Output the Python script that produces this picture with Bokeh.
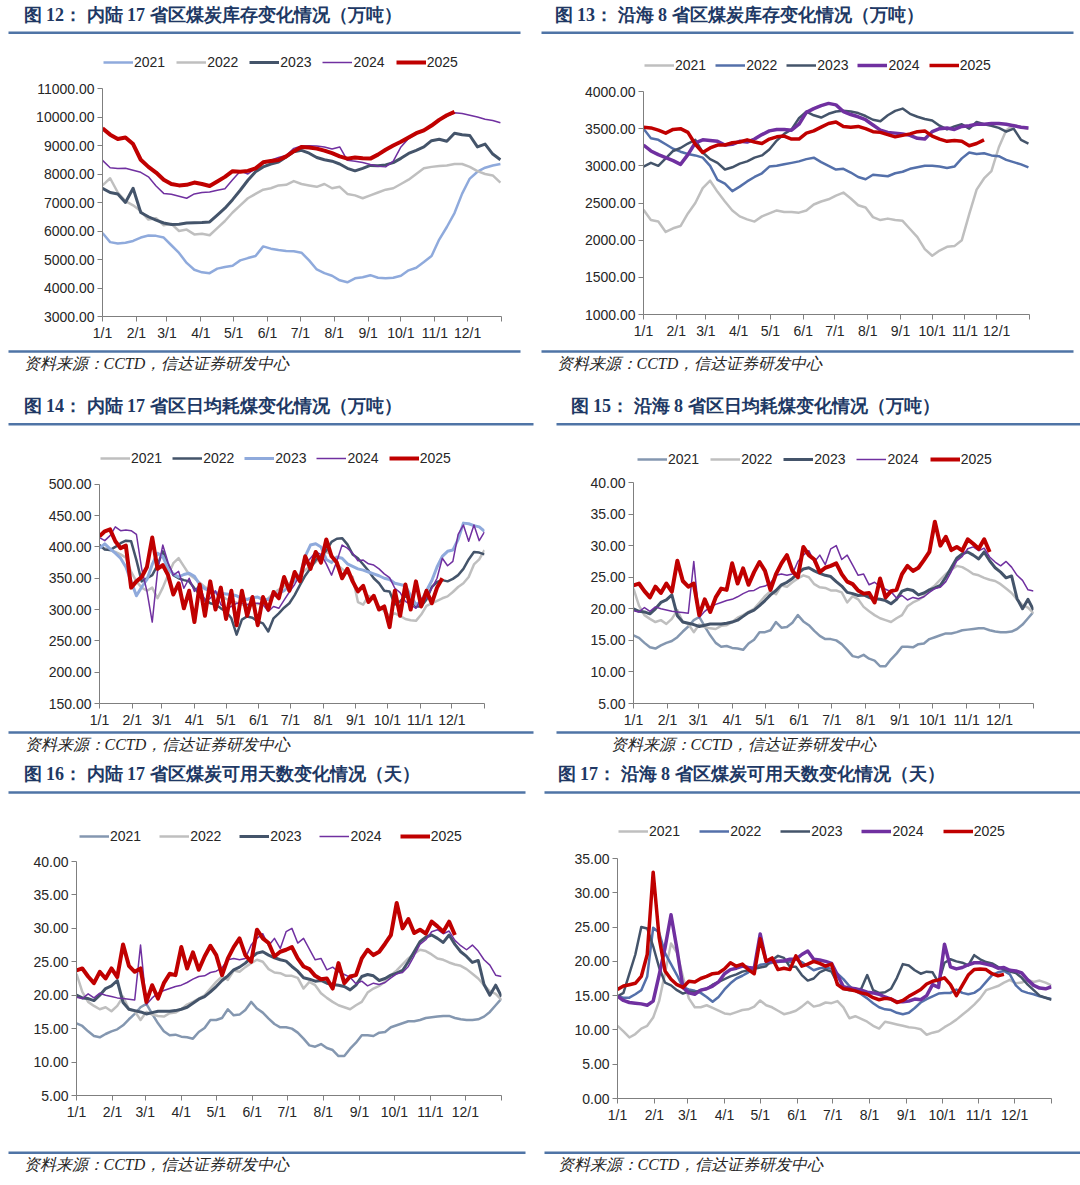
from bokeh.plotting import figure
from bokeh.models import Range1d, FixedTicker, NumeralTickFormatter, Legend, LegendItem
from bokeh.layouts import row, column
from bokeh.embed import file_html
from bokeh.resources import INLINE
from bokeh.core.properties import value

# ---------------- data ----------------
month_ticks = [0, 31, 59, 90, 120, 151, 181, 212, 243, 273, 304, 334, 365]
month_labels = ["1/1", "2/1", "3/1", "4/1", "5/1", "6/1", "7/1", "8/1", "9/1", "10/1", "11/1", "12/1", ""]
years = ["2021", "2022", "2023", "2024", "2025"]

days_weekly = list(range(0, 365, 7))   # day-of-year sample positions (7-day)
days_5 = list(range(0, 366, 5))        # day-of-year sample positions (5-day)

# Fig 12: inland 17 provinces coal stock (10k t), weekly samples
p12_2021 = [5930, 5610, 5560, 5590, 5650, 5770, 5840, 5830, 5770, 5500, 5230, 4880, 4640, 4550, 4520, 4680, 4740, 4780,
            4970, 5050, 5120, 5460, 5380, 5330, 5300, 5290, 5240, 4970, 4650, 4520, 4430, 4270, 4200, 4340, 4380, 4450,
            4360, 4340, 4360, 4430, 4620, 4710, 4910, 5120, 5700, 6140, 6630, 7310, 7840, 8080, 8220, 8300, 8350]
p12_2022 = [7600, 7850, 7350, 7050, 6900, 6700, 6400, 6450, 6200, 6250, 6000, 6050, 5880, 5900, 5850, 6100, 6350, 6650,
            6900, 7150, 7300, 7450, 7500, 7600, 7620, 7750, 7650, 7600, 7550, 7650, 7500, 7550, 7300, 7250, 7150, 7250,
            7350, 7450, 7500, 7650, 7800, 8000, 8200, 8250, 8280, 8300, 8350, 8350, 8250, 8100, 8000, 7950, 7700]
p12_2023 = [7500, 7350, 7300, 7000, 7500, 6650, 6500, 6380, 6280, 6230, 6240, 6280, 6290, 6300, 6320, 6560, 6800, 7100,
            7430, 7780, 8080, 8250, 8350, 8420, 8600, 8780, 8830, 8730, 8580, 8500, 8450, 8350, 8200, 8110, 8200, 8300,
            8290, 8320, 8400, 8550, 8720, 8830, 8950, 9170, 9220, 9150, 9430, 9380, 9350, 8950, 9050, 8700, 8500]
p12_2024 = [8480, 8220, 8190, 8200, 8130, 8060, 7900, 7580, 7320, 7290, 7220, 7150, 7300, 7350, 7370, 7430, 7480, 7800,
            8100, 8000, 8200, 8370, 8480, 8580, 8650, 8900, 8980, 8990, 8980, 8950, 8880, 8950, 8480, 8450, 8400, 8330,
            8270, 8250, 8450, 8950, 9250, 9400, 9540, 9700, 9900, 10020, 10150, 10120, 10060, 10000, 9920, 9880, 9800]
p12_2025 = [9600, 9380, 9230, 9280, 9050, 8500, 8250, 8050, 7800, 7650, 7600, 7620, 7700, 7650, 7580, 7740, 7900, 8100,
            8080, 8110, 8200, 8410, 8460, 8490, 8620, 8800, 8950, 8930, 8890, 8820, 8730, 8620, 8540, 8580, 8550, 8540,
            8680, 8850, 9000, 9130, 9280, 9430, 9530, 9700, 9900, 10060, 10180]

# Fig 13: coastal 8 provinces coal stock (10k t), weekly samples
p13_2021 = [2410, 2270, 2250, 2110, 2160, 2190, 2360, 2500, 2700, 2800, 2650, 2520, 2400, 2320, 2280, 2250, 2320, 2360,
            2400, 2380, 2380, 2370, 2400, 2480, 2520, 2550, 2600, 2640, 2560, 2470, 2440, 2310, 2270, 2290, 2270, 2260,
            2150, 2040, 1880, 1790, 1860, 1910, 1920, 2000, 2350, 2680, 2830, 2930, 3250, 3480, 3550, 3520, 3500]
p13_2022 = [3500, 3370, 3350, 3290, 3230, 3190, 3160, 3140, 3110, 3000, 2810, 2760, 2660, 2720, 2790, 2850, 2900, 2990,
            3000, 3020, 3040, 3060, 3090, 3110, 3050, 3000, 2950, 2960, 2910, 2850, 2820, 2880, 2870, 2860, 2900, 2920,
            2960, 2980, 3000, 3000, 2990, 2970, 2990, 3100, 3180, 3160, 3170, 3140, 3130, 3080, 3050, 3020, 2980]
p13_2023 = [2990, 3040, 3000, 3100, 3200, 3240, 3300, 3350, 3180, 3090, 3040, 2950, 2980, 3030, 3060, 3110, 3140, 3220,
            3340, 3430, 3490, 3640, 3730, 3680, 3650, 3700, 3730, 3740, 3730, 3710, 3670, 3620, 3600, 3680, 3740, 3770,
            3700, 3660, 3630, 3610, 3540, 3490, 3530, 3560, 3500, 3590, 3560, 3540, 3510, 3460, 3500, 3350, 3300]
p13_2024 = [3280, 3200, 3150, 3110, 3070, 3020, 3150, 3310, 3350, 3340, 3330, 3280, 3290, 3330, 3320, 3360, 3420, 3470,
            3490, 3490, 3480, 3560, 3720, 3770, 3810, 3840, 3820, 3730, 3690, 3660, 3620, 3550, 3480, 3450, 3440, 3430,
            3410, 3370, 3360, 3460, 3500, 3510, 3490, 3530, 3540, 3560, 3560, 3570, 3570, 3560, 3540, 3520, 3510]
p13_2025 = [3520, 3510, 3480, 3440, 3490, 3500, 3450, 3290, 3180, 3240, 3280, 3280, 3310, 3320, 3350, 3320, 3300, 3360,
            3390, 3400, 3360, 3360, 3440, 3470, 3520, 3570, 3590, 3530, 3520, 3530, 3500, 3460, 3450, 3420, 3390, 3410,
            3430, 3460, 3470, 3400, 3360, 3330, 3340, 3330, 3270, 3300, 3350]

# Fig 14: inland 17 provinces daily consumption (10k t), 5-day samples
p14_2021 = [400, 398, 395, 392, 388, 383, 360, 345, 335, 330, 335, 318, 335, 355, 374, 382, 369, 356, 350, 343,
            336, 331, 327, 322, 317, 314, 311, 308, 305, 307, 309, 311, 318, 326, 332, 337, 342, 349, 355, 363,
            369, 376, 385, 392, 388, 372, 365, 358, 352, 312, 308, 322, 318, 305, 297, 290, 294, 290, 285, 283,
            282, 292, 306, 310, 314, 318, 321, 328, 336, 342, 352, 372, 380, 395]
p14_2022 = [403, 396, 395, 400, 406, 410, 409, 379, 345, 350, 355, 371, 393, 371, 355, 350, 347, 345, 334, 324,
            316, 310, 308, 302, 297, 286, 260, 284, 289, 287, 281, 278, 265, 286, 294, 303, 310, 323, 339, 354,
            366, 379, 386, 394, 408, 413, 414, 404, 388, 382, 372, 362, 350, 342, 330, 329, 308, 313, 322, 315,
            305, 305, 316, 336, 344, 347, 345, 349, 355, 365, 380, 392, 391, 388]
p14_2023 = [398, 405, 397, 390, 382, 368, 345, 322, 336, 348, 372, 390, 385, 365, 357, 352, 356, 358, 353, 340,
            333, 330, 327, 326, 325, 324, 322, 318, 316, 319, 320, 316, 316, 322, 326, 330, 338, 346, 355, 385,
            403, 405, 400, 380, 375, 384, 382, 373, 369, 365, 363, 360, 357, 354, 350, 348, 342, 340, 338, 322,
            308, 313, 330, 346, 368, 385, 393, 395, 412, 438, 437, 434, 432, 425]
p14_2024 = [415, 410, 418, 432, 426, 427, 426, 420, 365, 329, 280, 361, 403, 375, 355, 361, 334, 350, 329, 340,
            313, 318, 330, 308, 302, 305, 310, 310, 308, 310, 310, 308, 297, 305, 302, 315, 328, 340, 355, 372,
            382, 392, 388, 373, 355, 377, 403, 398, 390, 378, 379, 373, 371, 365, 357, 351, 334, 327, 313, 308,
            302, 318, 318, 334, 350, 382, 370, 377, 420, 435, 409, 435, 410, 424]
p14_2025 = [417, 425, 428, 409, 398, 402, 335, 345, 352, 368, 415, 365, 371, 355, 324, 342, 302, 330, 280, 340,
            290, 345, 300, 335, 285, 330, 275, 330, 290, 320, 275, 320, 300, 328, 318, 352, 330, 360, 345, 385,
            365, 392, 375, 412, 385, 375, 350, 365, 345, 329, 338, 312, 322, 300, 305, 272, 330, 290, 340, 300,
            345, 305, 330, 310, 335, 350]

# Fig 15: coastal 8 provinces daily consumption (10k t), 5-day samples
p15_2021 = [15.8, 15.4, 14.6, 13.9, 13.7, 14.2, 14.6, 14.9, 15.5, 16.4, 17.2, 18.2, 18.7, 17.2, 15.8, 14.6, 14.0, 14.1,
            13.8, 13.7, 13.5, 14.5, 15.1, 16.3, 16.3, 16.6, 17.9, 17.0, 17.1, 17.8, 19.0, 18.0, 17.4, 16.5, 15.7, 15.2,
            15.2, 15.0, 14.4, 13.5, 12.5, 12.3, 12.7, 12.1, 11.8, 10.9, 10.9, 12.0, 12.9, 14.0, 14.0, 13.9, 14.4, 14.5,
            15.2, 15.5, 15.8, 16.1, 16.1, 16.3, 16.6, 16.7, 16.8, 16.9, 16.9, 16.6, 16.4, 16.3, 16.3, 16.4, 16.8, 17.5,
            18.5, 19.5]
p15_2022 = [23.2, 20.5, 19.0, 18.4, 17.9, 18.2, 17.6, 18.4, 19.8, 17.9, 17.6, 16.3, 17.5, 17.1, 16.9, 16.8, 17.3, 17.4,
            17.9, 18.6, 19.0, 19.5, 20.0, 21.0, 22.0, 22.8, 22.3, 23.7, 23.5, 24.2, 24.8, 25.3, 25.0, 23.9, 23.4, 23.3,
            22.9, 22.9, 22.6, 21.0, 22.0, 21.5, 20.3, 19.6, 19.0, 18.5, 18.2, 17.9, 18.5, 19.0, 20.4, 21.0, 21.4, 22.0,
            23.0, 23.7, 24.6, 25.5, 26.2, 26.8, 26.6, 26.1, 25.5, 25.3, 24.9, 24.6, 24.4, 23.9, 23.2, 22.5, 21.5, 20.6,
            20.2, 19.3]
p15_2023 = [20.0, 19.6, 19.5, 19.2, 20.0, 21.0, 21.4, 22.2, 18.9, 17.9, 17.7, 17.5, 17.2, 17.4, 17.6, 17.6, 17.6, 17.7,
            17.9, 18.2, 18.8, 19.4, 19.8, 20.5, 21.3, 22.2, 22.9, 23.8, 24.2, 24.8, 25.6, 26.3, 26.5, 26.0, 25.6, 25.3,
            25.1, 24.3, 23.6, 22.6, 22.4, 22.1, 22.2, 21.8, 21.6, 21.5, 21.3, 20.8, 21.5, 22.8, 23.1, 22.9, 22.2, 22.5,
            23.0, 23.3, 23.7, 25.0, 26.5, 28.0, 28.7, 29.0, 28.5, 27.9, 29.0, 27.6, 26.5, 25.8, 24.9, 25.2, 21.6, 20.0,
            21.5, 19.8]
p15_2024 = [19.7, 19.5, 20.2, 19.6, 20.3, 20.0, 19.8, 19.6, 19.5, 19.4, 19.3, 27.5, 18.6, 19.6, 20.3, 20.7, 21.0, 21.3,
            21.5, 21.9, 22.4, 22.8, 22.9, 23.4, 23.6, 24.1, 25.3, 25.5, 25.3, 25.5, 27.5, 28.5, 29.2, 27.4, 28.5, 27.0,
            29.5, 30.0, 27.8, 28.5, 26.9, 25.3, 25.5, 23.8, 24.2, 23.5, 23.1, 22.7, 21.7, 22.1, 21.4, 21.8, 21.6, 21.9,
            22.6, 23.2, 23.4, 24.3, 25.9, 27.6, 28.3, 29.5, 29.8, 29.2, 29.6, 28.2, 27.4, 26.8, 27.5, 26.6, 25.3, 24.5,
            23.0, 22.8]
p15_2025 = [23.7, 24.0, 22.8, 21.8, 23.5, 22.5, 24.0, 22.7, 27.6, 24.4, 23.5, 24.0, 19.0, 21.5, 19.5, 21.8, 23.2, 23.0,
            27.2, 24.0, 26.4, 23.8, 25.8, 27.4, 26.0, 23.0, 25.5, 27.2, 28.5, 26.0, 25.0, 29.8, 28.5, 27.8, 25.8, 26.5,
            26.8, 27.2, 25.5, 24.3, 23.9, 22.9, 22.4, 22.5, 21.0, 24.8, 21.8, 22.8, 23.0, 25.5, 26.8, 26.0, 26.5, 27.7,
            29.0, 33.8, 30.0, 31.4, 29.3, 29.8, 29.2, 31.0, 30.3, 29.5, 31.0, 29.0]

# Fig 16: inland 17 provinces available days (the published picture shows the same curves as Fig 15)
p16_2021 = p15_2021
p16_2022 = p15_2022
p16_2023 = p15_2023
p16_2024 = p15_2024
p16_2025 = p15_2025

# Fig 17: coastal 8 provinces available days, 5-day samples
p17_2021 = [10.6, 9.8, 8.9, 9.4, 10.2, 10.6, 11.8, 14.2, 18.3, 22.6, 21.3, 17.8, 14.6, 13.3, 13.3, 13.6, 13.2, 12.8,
            12.4, 12.3, 12.6, 12.9, 13.0, 13.4, 14.3, 13.6, 13.3, 12.8, 12.3, 12.5, 12.8, 13.4, 14.1, 13.4, 13.6, 14.0,
            13.9, 14.2, 13.3, 11.7, 12.0, 11.6, 11.2, 10.6, 10.2, 11.2, 11.0, 10.8, 10.6, 10.4, 10.3, 10.1, 9.3, 9.6,
            9.8, 10.4, 10.9, 11.5, 12.2, 12.9, 13.7, 14.6, 15.8, 16.1, 16.4, 16.9, 17.3, 16.8, 16.9, 17.3, 17.0, 17.2,
            16.9, 16.5]
p17_2022 = [14.9, 14.7, 14.7, 15.2, 15.8, 17.8, 24.9, 24.2, 21.2, 19.6, 18.0, 16.2, 15.9, 15.7, 15.4, 14.8, 14.1, 14.8,
            15.9, 16.8, 17.5, 17.9, 18.4, 19.0, 19.5, 19.6, 19.8, 19.9, 20.0, 19.9, 20.3, 19.9, 19.3, 18.7, 19.0, 19.1,
            18.9, 18.2, 17.4, 16.4, 15.7, 15.2, 14.6, 13.9, 13.3, 13.0, 12.9, 12.5, 12.3, 12.5, 13.2, 14.0, 14.5, 14.9,
            15.3, 15.4, 15.4, 15.9, 15.4, 15.2, 15.4, 16.0, 17.0, 18.0, 18.4, 18.6, 18.1, 16.5, 15.7, 15.4, 15.2, 14.9,
            14.7, 14.5]
p17_2023 = [14.9, 15.4, 18.2, 21.0, 25.0, 24.8, 22.2, 19.1, 16.9, 16.5, 15.8, 15.3, 15.6, 15.5, 15.8, 16.0, 16.6, 17.0,
            17.4, 17.8, 18.1, 18.5, 18.7, 18.9, 19.1, 19.3, 20.2, 20.8, 20.5, 19.2, 19.2, 18.0, 17.2, 17.5, 18.4, 18.8,
            18.5, 16.8, 16.0, 15.8, 15.8, 16.0, 18.0, 15.8, 15.4, 15.5, 16.0, 17.6, 19.6, 19.4, 18.7, 18.2, 18.5, 18.4,
            16.9, 19.8, 20.3, 20.0, 19.8, 19.4, 20.9, 20.3, 19.9, 19.7, 19.2, 18.8, 18.5, 18.3, 17.6, 16.6, 15.8, 15.0,
            14.7, 14.4]
p17_2024 = [14.9, 14.3, 14.0, 13.9, 13.8, 13.6, 14.2, 18.0, 22.0, 26.8, 21.8, 16.2, 15.4, 15.2, 15.8, 16.0, 16.4, 17.0,
            18.2, 18.8, 19.0, 19.3, 19.1, 19.0, 24.0, 20.0, 20.0, 20.0, 20.1, 20.3, 20.3, 21.0, 21.5, 20.3, 20.2, 20.0,
            19.7, 18.0, 16.3, 16.1, 16.0, 15.8, 15.5, 15.4, 15.2, 14.8, 14.5, 14.1, 14.1, 14.2, 14.5, 14.4, 15.0, 16.6,
            16.2, 22.5, 19.2, 18.9, 19.1, 19.5, 19.8, 19.8, 19.6, 19.4, 19.0, 19.1, 18.7, 18.6, 18.3, 17.3, 16.5, 16.1,
            16.0, 16.3]
p17_2025 = [15.9, 16.4, 16.6, 16.8, 17.8, 21.0, 33.0, 23.5, 18.6, 17.4, 16.6, 16.2, 17.1, 17.0, 17.5, 17.8, 18.2, 18.3,
            18.9, 19.8, 19.3, 19.6, 18.8, 18.2, 23.3, 20.0, 20.5, 18.8, 19.0, 18.8, 20.8, 19.3, 19.6, 20.0, 19.7, 19.3,
            19.6, 16.6, 16.0, 15.9, 15.7, 15.4, 15.2, 14.7, 14.4, 14.6, 14.5, 14.0, 14.3, 14.9, 15.4, 15.9, 16.7, 17.1,
            17.3, 17.6, 16.6, 15.0, 16.5, 18.0, 18.8, 18.9, 18.8, 18.2, 17.9, 18.1]

# ---------------- styling ----------------
W = 540
TITLE_COLOR = "#203864"
RULE_COLOR = "#4f74a6"
TEXT_COLOR = "#262626"
AXIS_COLOR = "#7f7f7f"

LIGHT_BLUE = "#8faadc"
GRAY = "#bfbfbf"
SLATE = "#44546a"
PURPLE = "#7030a0"
RED = "#c00000"
MID_BLUE = "#5470aa"
GRAY_BLUE = "#8497b0"


def no_align(p):
    if "frame_align" in p.properties():
        p.frame_align = False
    return p


def blank(h):
    p = figure(width=W, height=h, x_range=Range1d(0, W), y_range=Range1d(0, h),
               toolbar_location=None, output_backend="svg", min_border=0,
               x_axis_location=None, y_axis_location=None)
    p.outline_line_color = None
    p.grid.visible = False
    return no_align(p)


def header(title, tx, ty, h, rx0, rx1, ry):
    p = blank(h)
    p.text(x=[tx], y=[h - ty], text=[title], text_font=value("Liberation Serif"),
           text_font_style="bold", text_font_size="18px", text_color=TITLE_COLOR,
           text_baseline="middle", text_align="left")
    p.segment(x0=[rx0], y0=[h - ry], x1=[rx1], y1=[h - ry], line_color=RULE_COLOR, line_width=2.5)
    return p


def footer(sx, h, rx0, rx1, ry, sy):
    p = blank(h)
    p.segment(x0=[rx0], y0=[h - ry], x1=[rx1], y1=[h - ry], line_color=RULE_COLOR, line_width=2.5)
    p.text(x=[sx], y=[h - sy], text=["资料来源：CCTD，信达证券研发中心"], text_font=value("Liberation Serif"),
           text_font_style="italic", text_font_size="16px", text_color=TEXT_COLOR,
           text_baseline="middle", text_align="left")
    return p


def chart(days, data, styles, yr, yticks, h, bl, br, bt, bb, lx, ly, lspacing):
    ymin, ymax = yr
    # the frame reaches the top of the figure so that the legend sits inside it;
    # the top of the y range is set so that ymax falls bt pixels below the top
    plot_px = h - bt - bb
    ytop = ymax + (ymax - ymin) * bt / plot_px
    p = figure(width=W, height=h, x_range=Range1d(0, 365), y_range=Range1d(ymin, ytop),
               toolbar_location=None, output_backend="svg",
               min_border_left=bl, min_border_right=br, min_border_top=0, min_border_bottom=bb)
    no_align(p)
    p.outline_line_color = None
    p.grid.visible = False
    items = []
    for label, vals, (color, width) in zip(years, data, styles):
        r = p.line(days[:len(vals)], vals, line_color=color, line_width=width, line_join="round")
        items.append(LegendItem(label=label, renderers=[r]))
    p.xaxis.ticker = FixedTicker(ticks=month_ticks)
    p.xaxis.major_label_overrides = {t: l for t, l in zip(month_ticks, month_labels)}
    p.xaxis.bounds = (0, 365)
    p.yaxis.ticker = FixedTicker(ticks=yticks)
    p.yaxis.formatter = NumeralTickFormatter(format="0.00")
    p.yaxis.bounds = (ymin, ymax)
    for ax in p.axis:
        ax.axis_line_color = AXIS_COLOR
        ax.major_tick_line_color = AXIS_COLOR
        ax.minor_tick_line_color = None
        ax.major_tick_in = 0
        ax.major_tick_out = 5
        ax.major_label_standoff = 3
        ax.major_label_text_font = "Liberation Sans"
        ax.major_label_text_font_size = "14px"
        ax.major_label_text_color = TEXT_COLOR
    leg = Legend(items=items, location=(lx, ly), orientation="horizontal",
                 background_fill_alpha=0, border_line_color=None,
                 label_text_font="Liberation Sans", label_text_font_size="14px",
                 label_text_color=TEXT_COLOR, glyph_width=30, glyph_height=18,
                 label_height=18, label_standoff=1, spacing=lspacing, padding=2, margin=0)
    p.add_layout(leg)
    return p


st12 = [(LIGHT_BLUE, 2.5), (GRAY, 2.5), (SLATE, 3), (PURPLE, 1.5), (RED, 4)]
st13 = [(GRAY, 2.5), (MID_BLUE, 2.5), (SLATE, 2.5), (PURPLE, 3.5), (RED, 3.5)]
st14 = [(GRAY, 2.5), (SLATE, 2.5), (LIGHT_BLUE, 3), (PURPLE, 1.5), (RED, 4)]
st15 = [(GRAY_BLUE, 2.5), (GRAY, 2.5), (SLATE, 3), (PURPLE, 1.5), (RED, 4)]
st17 = [(GRAY, 2.5), (MID_BLUE, 2.5), (SLATE, 2.5), (PURPLE, 3.5), (RED, 3.5)]

# Row 1
h12 = header("图  12： 内陆 17 省区煤炭库存变化情况（万吨）", 23, 14, 36, 8, 520, 32.3)
c12 = chart(days_weekly, [p12_2021, p12_2022, p12_2023, p12_2024, p12_2025], st12,
            (3000, 11000), list(range(3000, 11001, 1000)), 313, 102, 39, 52, 33, 1, 245, 11)
f12 = footer(23, 29, 8, 520, 2, 14)
h13 = header("图  13： 沿海 8 省区煤炭库存变化情况（万吨）", 14, 14, 36, 1, 533, 32.3)
c13 = chart(days_weekly, [p13_2021, p13_2022, p13_2023, p13_2024, p13_2025], st13,
            (1000, 4000), list(range(1000, 4001, 500)), 313, 103, 51, 55, 35, 1, 240, 9)
f13 = footer(16, 29, 1, 533, 2, 14)

# Row 2
h14 = header("图  14： 内陆 17 省区日均耗煤变化情况（万吨）", 23, 27, 50, 8, 533, 45.7)
c14 = chart(days_5, [p14_2021, p14_2022, p14_2023, p14_2024, p14_2025], st14,
            (150, 500), list(range(150, 501, 50)), 302, 99, 56, 56, 26, 1, 236, 10)
f14 = footer(24, 27, 8, 533, 2, 14)
h15 = header("图  15： 沿海 8 省区日均耗煤变化情况（万吨）", 30, 27, 50, 16, 540, 45.7)
c15 = chart(days_5, [p15_2021, p15_2022, p15_2023, p15_2024, p15_2025], st15,
            (5, 40), list(range(5, 41, 5)), 302, 93, 47, 54, 27, 4, 235, 11)
f15 = footer(70, 27, 16, 540, 2, 14)

# Row 3
h16 = header("图  16： 内陆 17 省区煤炭可用天数变化情况（天）", 23, 16, 39, 8, 525, 35)
c16 = chart(days_5, [p16_2021, p16_2022, p16_2023, p16_2024, p16_2025], st15,
            (5, 40), list(range(5, 41, 5)), 354, 76, 39, 65, 55, 3, 250, 18)
f16 = footer(23, 27, 8, 525, 2.3, 14)
h17 = header("图  17： 沿海 8 省区煤炭可用天数变化情况（天）", 17, 16, 39, 4, 540, 35)
c17 = chart(days_5, [p17_2021, p17_2022, p17_2023, p17_2024, p17_2025], st17,
            (0, 35), list(range(0, 36, 5)), 354, 77, 29, 62, 52, 1, 258, 19)
f17 = footer(17, 27, 4, 540, 2.3, 14)

layout = column(
    row(column(h12, c12, f12), column(h13, c13, f13)),
    row(column(h14, c14, f14), column(h15, c15, f15)),
    row(column(h16, c16, f16), column(h17, c17, f17)),
)

open("out.html", "w").write(file_html(layout, INLINE, title="煤炭库存与耗煤"))
